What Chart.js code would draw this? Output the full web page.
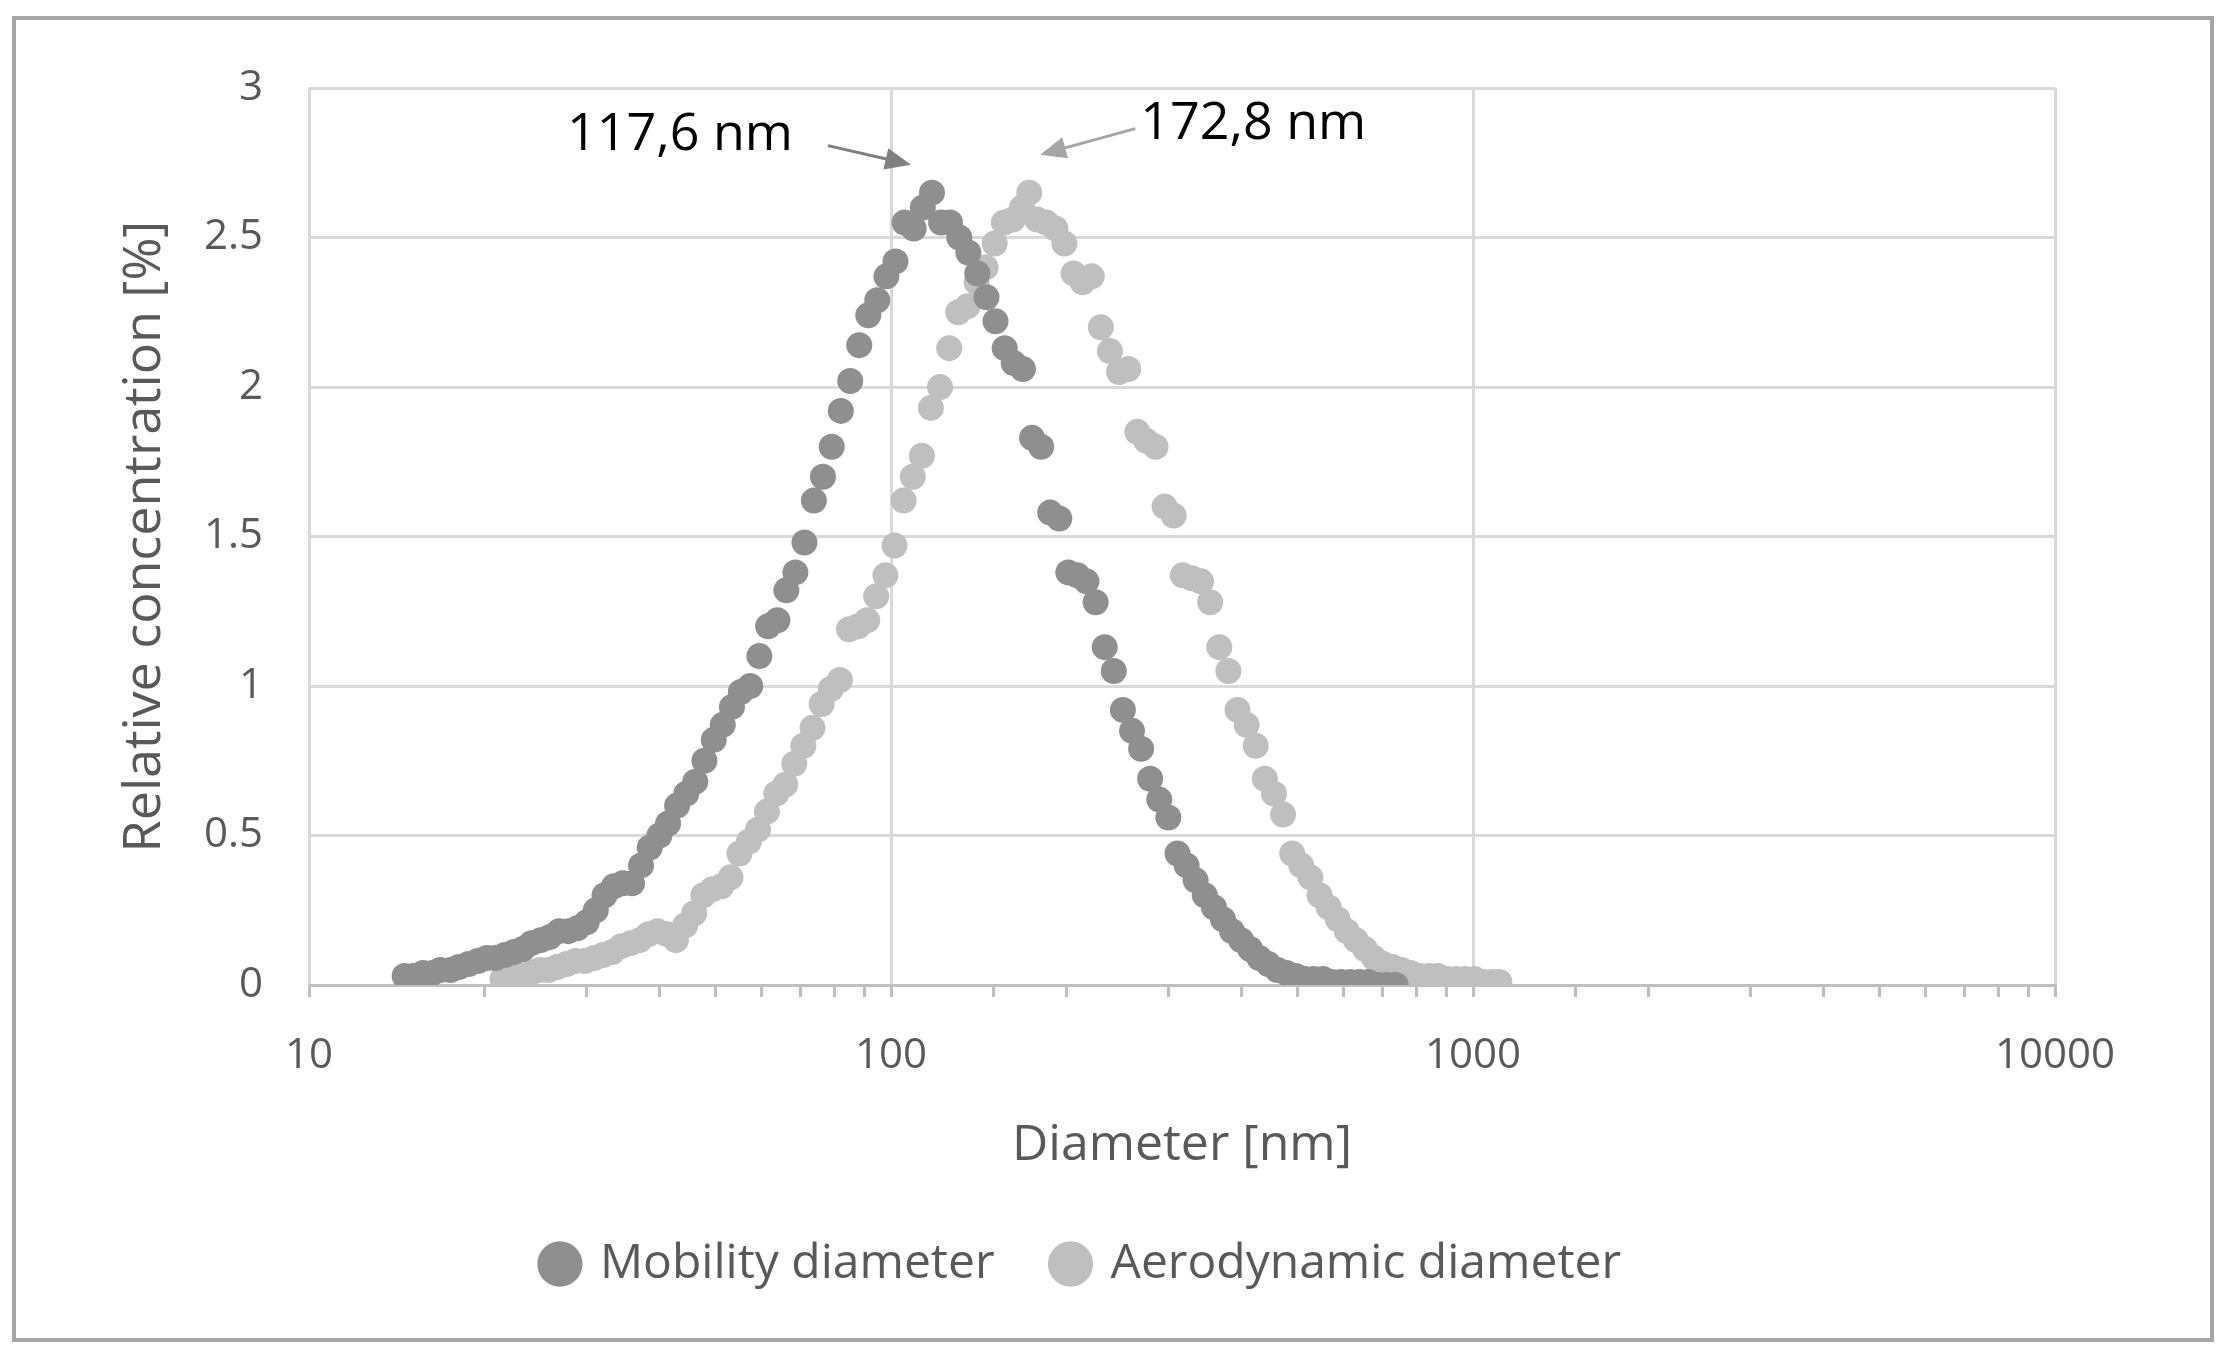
<!DOCTYPE html>
<html>
<head>
<meta charset="utf-8">
<script src="https://cdn.jsdelivr.net/npm/chart.js@4"></script>
<style>
  body { margin: 0; background: #fff; }
  #wrap { position: absolute; left: 0; top: 0; width: 2220px; height: 1348px; }
  #frame { position: absolute; left: 12px; top: 16px; width: 2194px; height: 1318px; border: 4px solid #a6a6a6; pointer-events: none; }
</style>
</head>
<body>
<div id="wrap"><canvas id="chart"></canvas></div>
<div id="frame"></div>
<script>
// Mobility diameter
var mobD = [14.6,15.1,15.7,16.3,16.8,17.5,18.1,18.8,19.5,20.2,20.9,21.7,22.5,23.3,24.1,25.0,25.9,26.9,27.9,28.9,30.0,31.1,32.2,33.4,34.6,35.9,37.2,38.5,40.0,41.4,42.9,44.5,46.1,47.8,49.6,51.4,53.3,55.2,57.3,59.4,61.5,63.8,66.1,68.5,71.0,73.7,76.4,79.1,82.0,85.1,88.2,91.4,94.7,98.2,101.8,105.5,109.4,113.4,117.6,121.9,126.3,131,135.8,140.7,145.9,151.2,156.8,162.5,168.5,174.7,181.1,187.7,194.6,201.7,209.1,216.7,224.7,232.9,241.4,250.3,259.5,269,278.8,289,299.6,310.6,322,333.8,346,358.7,371.8,385.4,399.5,414.2,429.4,445.1,461.4,478.3,495.8,514,532.8,552.3,572.5,593.5,615.3,637.8,661.2,685.4,710.5,736.5];
var mobC = [0.03,0.03,0.04,0.04,0.05,0.05,0.06,0.07,0.08,0.09,0.09,0.10,0.11,0.12,0.14,0.15,0.16,0.18,0.18,0.19,0.21,0.25,0.30,0.33,0.34,0.34,0.40,0.46,0.50,0.54,0.60,0.64,0.68,0.75,0.82,0.87,0.93,0.98,1.00,1.10,1.20,1.22,1.32,1.38,1.48,1.62,1.70,1.80,1.92,2.02,2.14,2.24,2.29,2.37,2.42,2.55,2.53,2.60,2.65,2.55,2.55,2.50,2.45,2.38,2.30,2.22,2.13,2.08,2.06,1.83,1.80,1.58,1.56,1.38,1.37,1.35,1.28,1.13,1.05,0.92,0.85,0.79,0.69,0.62,0.56,0.44,0.40,0.35,0.30,0.26,0.22,0.18,0.15,0.12,0.09,0.07,0.05,0.04,0.03,0.02,0.02,0.02,0.01,0.01,0.01,0.01,0.01,0.00,0.00,0.00];

// Aerodynamic diameter
var aeroD = [21.5,22.3,23.1,24,24.9,25.8,26.7,27.7,28.7,29.8,30.9,32,33.2,34.4,35.7,37,38.3,39.7,41.2,42.7,44.3,45.9,47.6,49.3,51.1,53,54.9,57,59.1,61.2,63.5,65.8,68.2,70.7,73.3,76,78.8,81.7,84.7,87.8,91,94.3,97.8,101.4,105.1,109,113,117.1,121.4,125.9,130.5,135.3,140.3,145.4,150.7,156.3,162,167.9,172.8,178.3,184.8,191.6,198.6,205.9,213.4,221.3,229.4,237.8,246.5,255.6,265,274.7,284.8,295.2,306,317.3,328.9,341,353.5,366.5,379.9,393.9,408.3,423.3,438.9,455,471.7,489,506.9,525.5,544.8,564.8,585.5,607,629.3,652.4,676.3,701.1,726.9,753.5,781.2,809.9,839.6,870.4,902.3,935.4,969.8,1005,1042,1080,1110];
var aeroC = [0.02,0.03,0.03,0.04,0.05,0.05,0.06,0.07,0.08,0.08,0.09,0.10,0.11,0.13,0.14,0.15,0.17,0.18,0.17,0.15,0.20,0.24,0.30,0.32,0.33,0.36,0.44,0.48,0.52,0.58,0.64,0.67,0.74,0.80,0.86,0.94,0.99,1.02,1.19,1.20,1.22,1.30,1.37,1.47,1.62,1.70,1.77,1.93,2.00,2.13,2.25,2.27,2.35,2.40,2.48,2.55,2.56,2.60,2.65,2.56,2.55,2.53,2.48,2.38,2.35,2.37,2.20,2.12,2.05,2.06,1.85,1.82,1.80,1.60,1.57,1.37,1.36,1.35,1.28,1.13,1.05,0.92,0.87,0.80,0.69,0.64,0.57,0.44,0.40,0.36,0.30,0.26,0.22,0.18,0.15,0.12,0.09,0.07,0.06,0.05,0.04,0.03,0.03,0.03,0.02,0.02,0.02,0.02,0.01,0.01,0.01];

var xDecades = [10, 100, 1000, 10000];
var peakLabels = ['117,6 nm', '172,8 nm'];

function pts(xs, ys) {
  return xs.map(function(v, i) { return {x: v, y: ys[i]}; });
}

var FONT = "'Open Sans', sans-serif";
var TXT = '#595959';

// peak notes with arrows
var peakNotes = {
  id: 'peakNotes',
  afterDatasetsDraw: function(chart) {
    var c = chart.ctx, xs = chart.scales.x, ys = chart.scales.y;
    function arrow(x1, y1, x2, y2, col) {
      c.save();
      c.strokeStyle = col; c.fillStyle = col; c.lineWidth = 3;
      var a = Math.atan2(y2 - y1, x2 - x1);
      c.beginPath(); c.moveTo(x1, y1); c.lineTo(x2 - 22 * Math.cos(a), y2 - 22 * Math.sin(a)); c.stroke();
      c.beginPath(); c.moveTo(x2, y2);
      c.lineTo(x2 - 28 * Math.cos(a - 0.4), y2 - 28 * Math.sin(a - 0.4));
      c.lineTo(x2 - 28 * Math.cos(a + 0.4), y2 - 28 * Math.sin(a + 0.4));
      c.closePath(); c.fill();
      c.restore();
    }
    var p1x = xs.getPixelForValue(117.6), p1y = ys.getPixelForValue(2.65);
    var p2x = xs.getPixelForValue(172.8), p2y = ys.getPixelForValue(2.65);
    arrow(p1x - 104, p1y - 47, p1x - 21, p1y - 28, '#7f7f7f');
    arrow(p2x + 106, p2y - 64, p2x + 11, p2y - 38, '#a6a6a6');
    c.save();
    c.font = '52px ' + FONT; c.fillStyle = '#000'; c.textBaseline = 'middle';
    c.textAlign = 'right'; c.fillText(peakLabels[0], p1x - 139, p1y - 57);
    c.textAlign = 'left'; c.fillText(peakLabels[1], p2x + 111, p2y - 68);
    c.restore();
  }
};

new Chart(document.getElementById('chart'), {
  type: 'scatter',
  data: {
    datasets: [
      { label: 'Mobility diameter', data: pts(mobD, mobC), backgroundColor: '#8f8f8f', borderColor: '#8f8f8f', pointRadius: 13, pointBorderWidth: 0 },
      { label: 'Aerodynamic diameter', data: pts(aeroD, aeroC), backgroundColor: '#bfbfbf', borderColor: '#bfbfbf', pointRadius: 13, pointBorderWidth: 0 }
    ]
  },
  options: {
    responsive: true,
    maintainAspectRatio: false,
    animation: false,
    layout: { padding: { top: 88, right: 165, bottom: 50, left: 110 } },
    plugins: {
      legend: {
        position: 'bottom',
        labels: { usePointStyle: true, pointStyle: 'circle', boxWidth: 32, boxHeight: 32, padding: 60, color: TXT, font: { family: FONT, size: 48 } }
      },
      tooltip: { enabled: false }
    },
    scales: {
      x: {
        type: 'logarithmic', min: 10, max: 10000,
        afterFit: function(s) { s.height = 195; },
        title: { display: true, text: 'Diameter [nm]', color: TXT, font: { family: FONT, size: 50 }, padding: { top: 30 } },
        border: { color: '#bfbfbf', width: 3 },
        grid: {
          tickLength: 12,
          lineWidth: 3,
          color: function(ctx) { return xDecades.indexOf(ctx.tick && ctx.tick.value) >= 0 ? '#d9d9d9' : 'rgba(0,0,0,0)'; },
          tickColor: '#bfbfbf'
        },
        ticks: {
          autoSkip: false, maxRotation: 0, padding: 34, color: TXT, font: { family: FONT, size: 42 },
          callback: function(v) { return xDecades.indexOf(v) >= 0 ? String(v) : ''; }
        }
      },
      y: {
        min: 0, max: 3,
        afterFit: function(s) { s.width = 199; },
        title: { display: true, text: 'Relative concentration [%]', color: TXT, font: { family: FONT, size: 52 }, padding: { bottom: 10 } },
        border: { display: false },
        grid: { color: '#d9d9d9', lineWidth: 3, drawTicks: false },
        ticks: { stepSize: 0.5, padding: 46, color: TXT, font: { family: FONT, size: 42 },
          callback: function(v) { return String(v); } }
      }
    }
  },
  plugins: [peakNotes]
});
</script>
</body>
</html>
